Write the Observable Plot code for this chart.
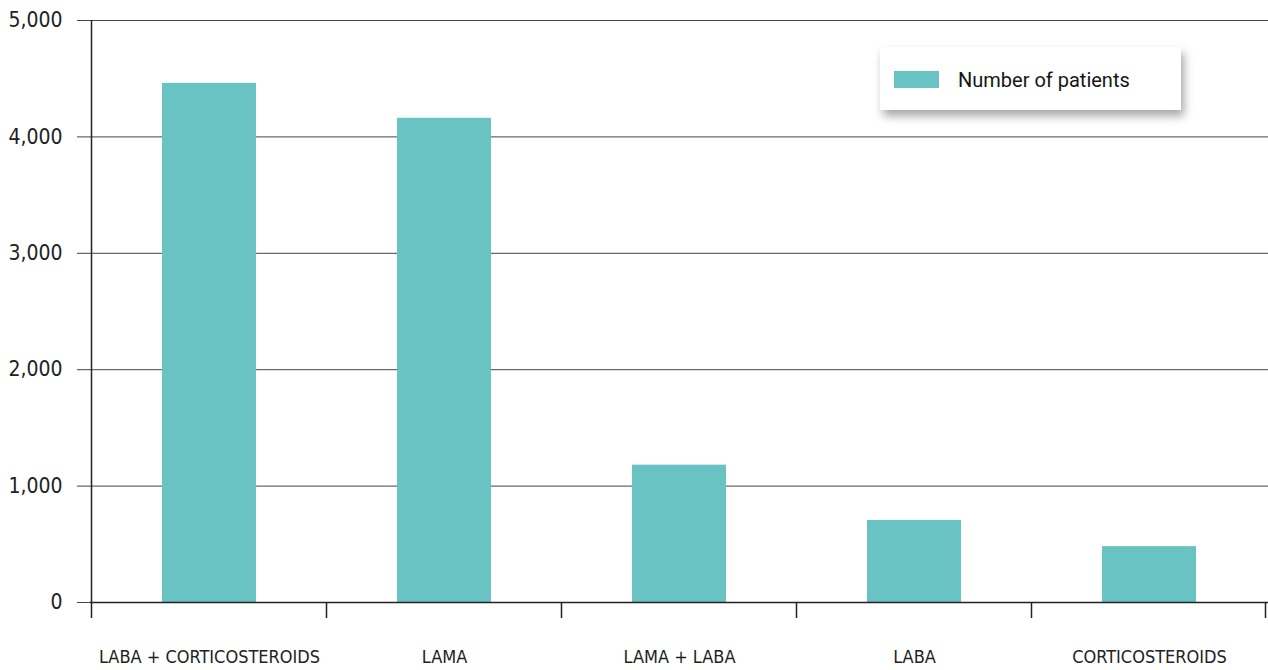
<!DOCTYPE html>
<html><head><meta charset="utf-8">
<script src="https://cdn.jsdelivr.net/npm/d3@7"></script>
<script src="https://cdn.jsdelivr.net/npm/@observablehq/plot@0.6"></script>
<style>
body{margin:0;background:#fff;}
#wrap{position:relative;width:1268px;height:670px;}
#legend{position:absolute;left:880px;top:47px;width:301px;height:63px;background:#fff;box-shadow:3px 6px 9px rgba(0,0,0,0.35);font-family:Roboto,"Noto Sans",sans-serif;font-size:20px;color:#151515;}
#legend .sw{position:absolute;left:14px;top:24px;width:45px;height:17px;}
#legend .lb{position:absolute;left:78px;top:21px;line-height:24px;white-space:nowrap;}
</style>
</head><body>
<div id="wrap"></div>
<script>
const categories = ["LABA + CORTICOSTEROIDS", "LAMA", "LAMA + LABA", "LABA", "CORTICOSTEROIDS"];
const patients = [4460, 4160, 1180, 705, 480];
const yTicks = [0, 1000, 2000, 3000, 4000, 5000];
const seriesName = "Number of patients";
const barColor = "#6AC3C3";

const data = categories.map((c, i) => ({category: c, value: patients[i]}));
const font = "'Liberation Sans Narrow','Arial Narrow','DejaVu Sans Condensed',sans-serif";

const plot = Plot.plot({
  width: 1268, height: 670,
  marginLeft: 90, marginRight: 0, marginTop: 20, marginBottom: 68,
  x: {domain: categories, paddingInner: 0.6, paddingOuter: 0.3, label: null},
  y: {domain: [0, 5000], label: null},
  style: {fontFamily: font, background: "white", color: "#222"},
  marks: [
    Plot.ruleY(yTicks.filter(d => d > 0), {stroke: "#444", strokeWidth: 1}),
    Plot.barY(data, {x: "category", y: "value", fill: barColor}),
    Plot.ruleY([0], {stroke: "#222", strokeWidth: 1.5}),
    Plot.axisY({ticks: yTicks, tickFormat: d3.format(","), tickSize: 13, tickPadding: 15, fontSize: 21, stroke: "#444", label: null}),
    Plot.axisX({tickSize: 0, tickPadding: 48, fontSize: 18, label: null})
  ]
});

// Category boundary ticks and left axis line, from the library's scales
const xs = plot.scale("x"), ys = plot.scale("y");
const half = (xs.step - xs.bandwidth) / 2;
const bounds = categories.map(c => xs.apply(c) - half);
bounds.push(bounds[bounds.length - 1] + xs.step);
const g = d3.select(plot).append("g").attr("stroke", "#222").attr("stroke-width", 1.5);
const y0 = ys.apply(0), yTop = ys.apply(5000);
bounds.forEach((b, i) => {
  const xx = i === bounds.length - 1 ? b - 1 : b;
  g.append("line").attr("x1", xx).attr("x2", xx).attr("y1", y0).attr("y2", y0 + 16);
});
g.append("line").attr("x1", bounds[0]).attr("x2", bounds[0]).attr("y1", yTop).attr("y2", y0);

const wrap = document.getElementById("wrap");
wrap.appendChild(plot);
const leg = document.createElement("div");
leg.id = "legend";
leg.innerHTML = `<div class="sw" style="background:${barColor}"></div><div class="lb">${seriesName}</div>`;
wrap.appendChild(leg);
</script>
</body></html>
